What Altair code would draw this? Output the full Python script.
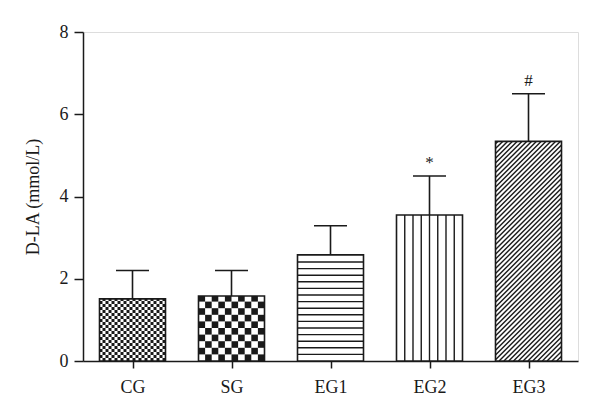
import json
import altair as alt
import numpy as np
import pandas as pd

# ---- data ----
groups = ["CG", "SG", "EG1", "EG2", "EG3"]
means = [1.51, 1.58, 2.58, 3.55, 5.34]
sds = [0.69, 0.62, 0.71, 0.95, 1.16]
marks = ["", "", "", "*", "#"]
y_ticks = [0, 2, 4, 6, 8]
y_title = "D-LA (mmol/L)"

# ---- layout / style ----
W, H = 495, 329
YMAX = 8
PXX = W / len(groups)
PXY = H / YMAX
HALF = 33 / PXX
INK = "#1a1a1a"
FONT = "Liberation Serif"

base = pd.DataFrame({"x": list(range(len(groups))), "m": means, "sd": sds, "lab": marks})

bars = pd.DataFrame({"x": base.x - HALF, "x2": base.x + HALF, "y": 0.0, "y2": base.m})
err = pd.DataFrame({"x": base.x, "y": base.m, "y2": base.m + base.sd})
caps = pd.DataFrame({"x": base.x - HALF / 2, "x2": base.x + HALF / 2, "y": base.m + base.sd})
txt = pd.DataFrame({"x": base.x, "y": base.m + base.sd, "lab": base.lab})


def checker(i, val, cell):
    rows = []
    wpx = 2 * HALF * PXX
    hpx = val * PXY
    nx = int(np.ceil(wpx / cell))
    ny = int(np.ceil(hpx / cell))
    for r in range(ny):
        for c in range(nx):
            if (r + c) % 2 == 1:
                x0, x1 = c * cell, min((c + 1) * cell, wpx)
                y0, y1 = r * cell, min((r + 1) * cell, hpx)
                rows.append(dict(x=i - HALF + x0 / PXX, x2=i - HALF + x1 / PXX,
                                 y=y0 / PXY, y2=y1 / PXY))
    return rows


def hlines(i, val, step):
    rows = []
    hpx = val * PXY
    k = 1
    while k * step < hpx - 1:
        yy = k * step / PXY
        rows.append(dict(x=i - HALF, x2=i + HALF, y=yy, y2=yy))
        k += 1
    return rows


def vlines(i, val, n):
    rows = []
    for k in range(1, n):
        xx = i - HALF + 2 * HALF * k / n
        rows.append(dict(x=xx, x2=xx, y=0.0, y2=val))
    return rows


def diag(i, val, step):
    rows = []
    wpx = 2 * HALF * PXX
    hpx = val * PXY
    c = -hpx + step / 2
    while c < wpx:
        xa = max(0.0, c)
        xb = min(wpx, hpx + c)
        if xb > xa:
            rows.append(dict(x=i - HALF + xa / PXX, x2=i - HALF + xb / PXX,
                             y=(xa - c) / PXY, y2=(xb - c) / PXY))
        c += step
    return rows


cells = pd.DataFrame(checker(0, means[0], 3.0) + checker(1, means[1], 6.6))
lines = pd.DataFrame(hlines(2, means[2], 6.6) + vlines(3, means[3], 8) + diag(4, means[4], 4.8))

xs = alt.Scale(domain=[-0.5, len(groups) - 0.5], nice=False, zero=False)
ys = alt.Scale(domain=[0, YMAX], nice=False)

lab_expr = json.dumps(groups) + "[datum.value]"
xaxis = alt.Axis(values=list(range(len(groups))), labelExpr=lab_expr, grid=False,
                 domainColor=INK, domainWidth=1.5, tickColor=INK, tickWidth=1.5,
                 tickSize=7, labelPadding=10, labelFont=FONT, labelFontSize=18,
                 labelColor=INK, title=None)
yaxis = alt.Axis(values=y_ticks, grid=False, domainColor=INK, domainWidth=1.5,
                 tickColor=INK, tickWidth=1.5, tickSize=9, labelPadding=6,
                 labelFont=FONT, labelFontSize=18, labelColor=INK,
                 titleFont=FONT, titleFontSize=18, titleFontWeight="normal",
                 titleColor=INK, titlePadding=17)

X = alt.X("x:Q", scale=xs, axis=xaxis, title=None)
Y = alt.Y("y:Q", scale=ys, axis=yaxis, title=y_title)

bar_bg = alt.Chart(bars).mark_rect(fill="white", strokeWidth=0).encode(
    x=X, x2="x2:Q", y=Y, y2="y2:Q")
cell_layer = alt.Chart(cells).mark_rect(fill=INK, strokeWidth=0).encode(
    x=X, x2="x2:Q", y=Y, y2="y2:Q")
line_layer = alt.Chart(lines).mark_rule(color=INK, strokeWidth=1.4).encode(
    x=X, x2="x2:Q", y=Y, y2="y2:Q")
bar_outline = alt.Chart(bars).mark_rect(fillOpacity=0, stroke=INK, strokeWidth=1.6).encode(
    x=X, x2="x2:Q", y=Y, y2="y2:Q")
err_layer = alt.Chart(err).mark_rule(color=INK, strokeWidth=1.6).encode(
    x=X, y=Y, y2="y2:Q")
cap_layer = alt.Chart(caps).mark_rule(color=INK, strokeWidth=1.6).encode(
    x=X, x2="x2:Q", y=Y)
text_layer = alt.Chart(txt).mark_text(font=FONT, fontSize=17, color=INK,
                                      baseline="alphabetic", dy=-8).encode(
    x=X, y=Y, text="lab:N")

chart = alt.layer(bar_bg, cell_layer, line_layer, bar_outline, err_layer, cap_layer,
                  text_layer).properties(
    width=W, height=H,
    autosize=alt.AutoSizeParams(type="none"),
    padding={"left": 75, "top": 24, "right": 10, "bottom": 45},
).configure_view(stroke=None).configure(background="white")

chart.save("out.html", embed_options={"renderer": "svg", "actions": False})
